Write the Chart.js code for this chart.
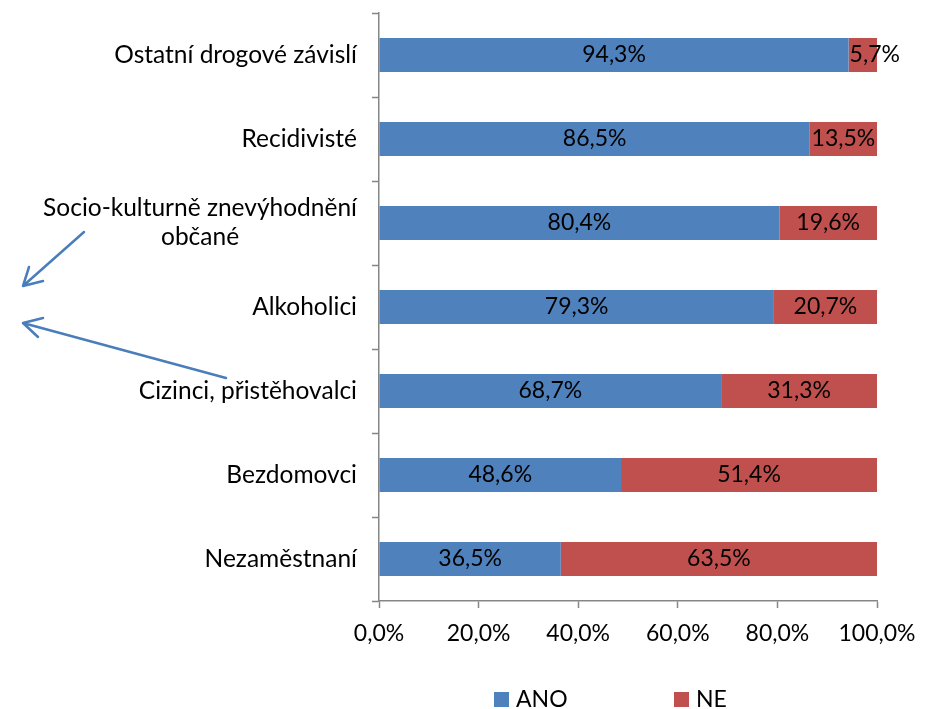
<!DOCTYPE html>
<html lang="cs">
  <head>
    <meta charset="UTF-8" />
    <title>ANO / NE</title>
    <style>
      body {
        margin: 0;
        background: #fff;
      }
      #wrap {
        width: 932px;
        height: 709px;
        position: relative;
      }
    </style>
    <script src="https://cdn.jsdelivr.net/npm/chart.js"></script>
  </head>
  <body>
    <div id="wrap"><canvas id="chart"></canvas></div>

    <script>
      // kategorie (shora dolů)
      const categories = [
        "Ostatní drogové závislí",
        "Recidivisté",
        ["Socio-kulturně znevýhodnění", "občané"],
        "Alkoholici",
        "Cizinci, přistěhovalci",
        "Bezdomovci",
        "Nezaměstnaní",
      ];
      const ano = [94.3, 86.5, 80.4, 79.3, 68.7, 48.6, 36.5];
      const ne = [5.7, 13.5, 19.6, 20.7, 31.3, 51.4, 63.5];
      const xTicks = [0, 20, 40, 60, 80, 100];

      const FONT = "Lato, 'Open Sans', sans-serif";
      const fmt = (v) => v.toFixed(1).replace(".", ",") + "%";

      // popisky hodnot uvnitř pruhů
      const valueLabels = {
        id: "valueLabels",
        afterDatasetsDraw(chart) {
          const ctx = chart.ctx;
          ctx.save();
          ctx.font = "23px " + FONT;
          ctx.fillStyle = "#000";
          ctx.textBaseline = "middle";
          chart.data.datasets.forEach((ds, di) => {
            chart.getDatasetMeta(di).data.forEach((bar, i) => {
              const txt = fmt(ds.data[i]);
              const left = Math.min(bar.base, bar.x);
              const w = Math.abs(bar.x - bar.base);
              const tw = ctx.measureText(txt).width;
              if (tw > w) {
                ctx.textAlign = "left";
                ctx.fillText(txt, left + 1, bar.y);
              } else {
                ctx.textAlign = "center";
                ctx.fillText(txt, left + w / 2, bar.y);
              }
            });
          });
          ctx.restore();
        },
      };

      // popisky kategorií (víceřádkové zarovnané na střed bloku)
      const catLabels = {
        id: "catLabels",
        afterDraw(chart) {
          const ctx = chart.ctx;
          const y = chart.scales.y;
          const right = y.right - 22;
          ctx.save();
          ctx.font = "24.5px " + FONT;
          ctx.fillStyle = "#000";
          ctx.textBaseline = "middle";
          ctx.textAlign = "center";
          categories.forEach((lab, i) => {
            const lines = Array.isArray(lab) ? lab : [lab];
            const bw = Math.max(...lines.map((l) => ctx.measureText(l).width));
            const cx = right - bw / 2;
            const cy = y.getPixelForValue(i);
            const lh = 29;
            lines.forEach((l, k) => {
              ctx.fillText(l, cx, cy + (k - (lines.length - 1) / 2) * lh);
            });
          });
          ctx.restore();
        },
      };

      // legenda dole
      const bottomLegend = {
        id: "bottomLegend",
        afterDraw(chart) {
          const ctx = chart.ctx;
          const starts = [494, 674];
          ctx.save();
          ctx.font = "23px " + FONT;
          ctx.textBaseline = "middle";
          ctx.textAlign = "left";
          chart.data.datasets.forEach((ds, i) => {
            const x = starts[i];
            ctx.fillStyle = ds.backgroundColor;
            ctx.fillRect(x, 692, 15, 15);
            ctx.fillStyle = "#000";
            ctx.fillText(ds.label, x + 22, 700);
          });
          ctx.restore();
        },
      };

      // šipky vlevo
      const arrows = {
        id: "arrows",
        afterDraw(chart) {
          const ctx = chart.ctx;
          const list = [
            [[84, 232], [23, 286], [29, 267], [43, 281]],
            [[226, 378], [23, 323], [43, 318], [38, 337]],
          ];
          ctx.save();
          ctx.strokeStyle = "#4a7ebb";
          ctx.lineWidth = 2.5;
          ctx.lineCap = "round";
          ctx.lineJoin = "round";
          list.forEach(([a, b, c, d]) => {
            ctx.beginPath();
            ctx.moveTo(a[0], a[1]);
            ctx.lineTo(b[0], b[1]);
            ctx.moveTo(c[0], c[1]);
            ctx.lineTo(b[0], b[1]);
            ctx.lineTo(d[0], d[1]);
            ctx.stroke();
          });
          ctx.restore();
        },
      };

      new Chart(document.getElementById("chart"), {
        type: "bar",
        data: {
          labels: categories,
          datasets: [
            { label: "ANO", data: ano, backgroundColor: "#4f81bd" },
            { label: "NE", data: ne, backgroundColor: "#c0504d" },
          ],
        },
        options: {
          indexAxis: "y",
          responsive: true,
          maintainAspectRatio: false,
          animation: false,
          barPercentage: 0.405,
          categoryPercentage: 1,
          layout: { padding: { top: 13, right: 55, left: 0, bottom: 0 } },
          plugins: {
            legend: { display: false },
            tooltip: { enabled: false },
          },
          scales: {
            x: {
              stacked: true,
              min: 0,
              max: 100,
              afterBuildTicks: (s) => {
                s.ticks = xTicks.map((v) => ({ value: v }));
              },
              afterFit: (s) => {
                s.height = 108;
              },
              border: { color: "#868686", width: 1.5 },
              grid: {
                drawOnChartArea: false,
                color: "#868686",
                tickLength: 7,
                tickWidth: 1.5,
              },
              ticks: {
                color: "#000",
                padding: 12,
                font: { family: FONT, size: 23 },
                callback: (v) => fmt(v),
                maxRotation: 0,
              },
            },
            y: {
              stacked: true,
              afterFit: (s) => {
                s.width = 379;
              },
              border: { color: "#868686", width: 1.5 },
              grid: {
                drawOnChartArea: false,
                color: "#868686",
                tickLength: 7,
                tickWidth: 1.5,
                offset: true,
              },
              ticks: { display: false },
            },
          },
        },
        plugins: [valueLabels, catLabels, bottomLegend, arrows],
      });
    </script>
  </body>
</html>
